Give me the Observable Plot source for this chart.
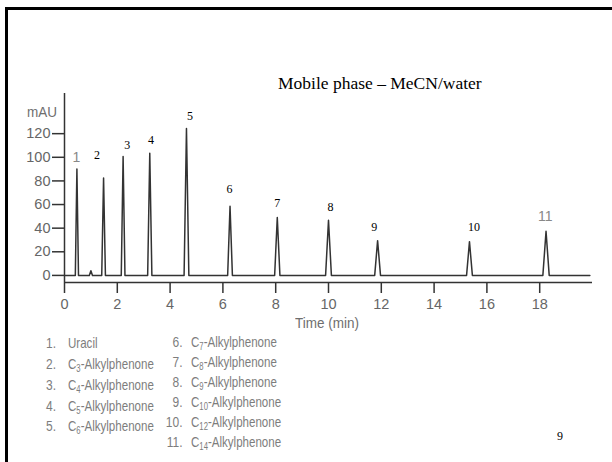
<!DOCTYPE html>
<html><head><meta charset="utf-8">
<script src="https://cdn.jsdelivr.net/npm/d3@7"></script>
<script src="https://cdn.jsdelivr.net/npm/@observablehq/plot@0.6"></script>
<style>
body{margin:0;background:#fff;}
#wrap{position:relative;width:612px;height:462px;overflow:hidden;background:#fff;}
#frame{position:absolute;left:5px;top:7px;width:700px;height:500px;border-top:3px solid #000;border-left:3px solid #000;box-sizing:border-box;}
#chart{position:absolute;left:0;top:0;}
.t{position:absolute;white-space:nowrap;}
.sans{font-family:"Liberation Sans",Arial,sans-serif;color:#6e6e6e;}
.serif{font-family:"Liberation Serif","Times New Roman",serif;color:#000;}
.leg{font-size:15px;line-height:16px;color:#7d7d7d;}
.leg sub{font-size:10px;vertical-align:-3px;line-height:0;}
</style></head>
<body>
<div id="wrap">
  <div id="frame"></div>
  <div id="chart"></div>
</div>
<script>
// Peak table (time in min, height in mAU, half base width in min)
const peakTime   = [0.47, 1.00, 1.48, 2.22, 3.23, 4.62, 6.27, 8.06, 10.00, 11.86, 15.34, 18.24];
const peakHeight = [90,   4,    82.5, 100.6, 103.4, 124.3, 58.5, 49,  46.6,  29.4,  28.6,  37.3];
const peakHalfW  = [0.06, 0.06, 0.07, 0.07, 0.08, 0.09, 0.09, 0.10, 0.11, 0.11, 0.11, 0.12];
const runStart = 0;
const runEnd = 19.9;

// Peak number labels (time, mAU)
const labelText  = ["1","2","3","4","5","6","7","8","9","10","11"];
const labelTime  = [0.45, 1.23, 2.38, 3.28, 4.75, 6.25, 8.06, 10.08, 11.73, 15.51, 18.21];
const labelValue = [100, 102, 110, 114.4, 134.5, 72.9, 61, 57.4, 41, 41, 49.5];
const labelSans  = [true,false,false,false,false,false,false,false,false,false,true];

// Axis ticks
const xTicks = [0,2,4,6,8,10,12,14,16,18];
const yTicks = [0,20,40,60,80,100,120];

// Legend
const legendNum = ["1.","2.","3.","4.","5.","6.","7.","8.","9.","10.","11."];
const legendBase = ["Uracil","C","C","C","C","C","C","C","C","C","C"];
const legendSub  = ["","3","4","5","6","7","8","9","10","12","14"];
const legendTail = ["","-Alkylphenone","-Alkylphenone","-Alkylphenone","-Alkylphenone","-Alkylphenone","-Alkylphenone","-Alkylphenone","-Alkylphenone","-Alkylphenone","-Alkylphenone"];

const titleText = "Mobile phase \u2013 MeCN/water";
const xLabel = "Time (min)";
const yLabel = "mAU";
const pageNum = "9";

// Build trace from the peak table
const trace = [{t: runStart, v: 0}];
peakTime.forEach((t, i) => {
  trace.push({t: t - peakHalfW[i], v: 0});
  trace.push({t: t, v: peakHeight[i]});
  trace.push({t: t + peakHalfW[i], v: 0});
});
trace.push({t: runEnd, v: 0});

const labels = labelText.map((s, i) => ({s, t: labelTime[i], v: labelValue[i], sans: labelSans[i]}));

const sansFont = '"Liberation Sans",Arial,sans-serif';
const serifFont = '"Liberation Serif","Times New Roman",serif';

const chart = Plot.plot({
  width: 612,
  height: 462,
  marginLeft: 64,
  marginRight: 20,
  marginTop: 93,
  marginBottom: 180,
  x: {domain: [0, 20], label: null},
  y: {domain: [-6, 154], label: null},
  style: {background: "transparent", fontFamily: sansFont},
  marks: [
    Plot.axisY(yTicks, {label: null, tickSize: 12, tickPadding: 2, fontSize: 14.5, stroke: "#333", strokeWidth: 1.5, fill: "#666", fontFamily: sansFont}),
    Plot.axisX(xTicks, {label: null, anchor: "bottom", tickSize: 11, tickPadding: 5, fontSize: 14.5, stroke: "#333", strokeWidth: 1.5, fill: "#666", fontFamily: sansFont}),
    Plot.ruleX([0], {y1: -6, y2: 154, stroke: "#333", strokeWidth: 1.5}),
    Plot.ruleY([-6], {x1: 0, x2: 20, stroke: "#333", strokeWidth: 1.5}),
    Plot.line(trace, {x: "t", y: "v", stroke: "#333", strokeWidth: 1.5}),
    Plot.text(labels.filter(d => !d.sans), {x: "t", y: "v", text: "s", fontFamily: serifFont, fontSize: 12, fill: "#000"}),
    Plot.text(labels.filter(d => d.sans), {x: "t", y: "v", text: "s", fontFamily: sansFont, fontSize: 14, fill: "#888"})
  ]
});
document.getElementById("chart").appendChild(chart);

const wrap = document.getElementById("wrap");
function addText(html, cls, left, top, extra) {
  const d = document.createElement("div");
  d.className = "t " + cls;
  d.innerHTML = html;
  d.style.left = left + "px";
  d.style.top = top + "px";
  if (extra) Object.assign(d.style, extra);
  wrap.appendChild(d);
  return d;
}
addText(titleText, "serif", 278, 72, {fontSize: "17.5px", lineHeight: "22px"});
addText(yLabel, "sans", 27, 103, {fontSize: "15px", lineHeight: "18px", transform: "scaleX(0.9)", transformOrigin: "left center"});
addText(xLabel, "sans", 295, 314, {fontSize: "15px", lineHeight: "18px", transform: "scaleX(0.9)", transformOrigin: "left center"});
addText(pageNum, "serif", 557, 428, {fontSize: "12px", lineHeight: "16px"});

const col1Y = [342.7, 363.5, 384.5, 405.5, 426];
const col2Y = [341.7, 361.5, 381.5, 402, 421.7, 441.7];
legendNum.forEach((n, i) => {
  const inFirst = i < 5;
  const cy = inFirst ? col1Y[i] : col2Y[i - 5];
  const numRight = inFirst ? 56 : 182.5;
  const textLeft = inFirst ? 68 : 190.5;
  addText(n, "sans leg", 0, cy - 8, {width: numRight + "px", textAlign: "right", transform: "scaleX(0.8)", transformOrigin: numRight + "px center"});
  const label = legendBase[i] + (legendSub[i] ? "<sub>" + legendSub[i] + "</sub>" : "") + legendTail[i];
  addText(label, "sans leg", textLeft, cy - 8, {transform: "scaleX(0.77)", transformOrigin: "left center"});
});
</script>
</body></html>
